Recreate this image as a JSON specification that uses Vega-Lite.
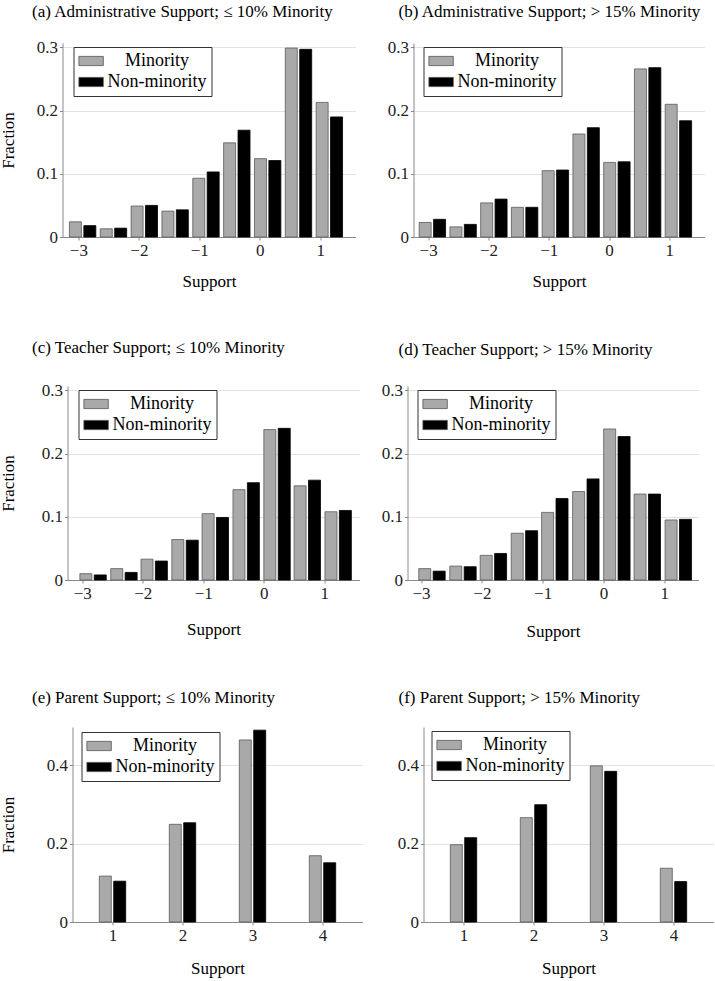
{
  "$schema": "https://vega.github.io/schema/vega-lite/v6.json",
  "background": "white",
  "padding": {"left": -36.5, "top": 3, "right": 2, "bottom": 2},
  "datasets": {
    "a": [
      {"support": -2.93, "group": "Minority", "fraction": 0.024},
      {"support": -2.42, "group": "Minority", "fraction": 0.013},
      {"support": -1.91, "group": "Minority", "fraction": 0.049},
      {"support": -1.40, "group": "Minority", "fraction": 0.041},
      {"support": -0.89, "group": "Minority", "fraction": 0.093},
      {"support": -0.38, "group": "Minority", "fraction": 0.149},
      {"support": 0.13, "group": "Minority", "fraction": 0.124},
      {"support": 0.64, "group": "Minority", "fraction": 0.299},
      {"support": 1.15, "group": "Minority", "fraction": 0.213},
      {"support": -2.93, "group": "Non-minority", "fraction": 0.018},
      {"support": -2.42, "group": "Non-minority", "fraction": 0.014},
      {"support": -1.91, "group": "Non-minority", "fraction": 0.050},
      {"support": -1.40, "group": "Non-minority", "fraction": 0.043},
      {"support": -0.89, "group": "Non-minority", "fraction": 0.103},
      {"support": -0.38, "group": "Non-minority", "fraction": 0.169},
      {"support": 0.13, "group": "Non-minority", "fraction": 0.121},
      {"support": 0.64, "group": "Non-minority", "fraction": 0.297},
      {"support": 1.15, "group": "Non-minority", "fraction": 0.190}
    ],
    "b": [
      {"support": -2.93, "group": "Minority", "fraction": 0.023},
      {"support": -2.42, "group": "Minority", "fraction": 0.016},
      {"support": -1.91, "group": "Minority", "fraction": 0.054},
      {"support": -1.40, "group": "Minority", "fraction": 0.047},
      {"support": -0.89, "group": "Minority", "fraction": 0.105},
      {"support": -0.38, "group": "Minority", "fraction": 0.163},
      {"support": 0.13, "group": "Minority", "fraction": 0.118},
      {"support": 0.64, "group": "Minority", "fraction": 0.266},
      {"support": 1.15, "group": "Minority", "fraction": 0.210},
      {"support": -2.93, "group": "Non-minority", "fraction": 0.028},
      {"support": -2.42, "group": "Non-minority", "fraction": 0.020},
      {"support": -1.91, "group": "Non-minority", "fraction": 0.060},
      {"support": -1.40, "group": "Non-minority", "fraction": 0.047},
      {"support": -0.89, "group": "Non-minority", "fraction": 0.106},
      {"support": -0.38, "group": "Non-minority", "fraction": 0.173},
      {"support": 0.13, "group": "Non-minority", "fraction": 0.119},
      {"support": 0.64, "group": "Non-minority", "fraction": 0.268},
      {"support": 1.15, "group": "Non-minority", "fraction": 0.184}
    ],
    "c": [
      {"support": -2.82, "group": "Minority", "fraction": 0.010},
      {"support": -2.31, "group": "Minority", "fraction": 0.018},
      {"support": -1.81, "group": "Minority", "fraction": 0.033},
      {"support": -1.30, "group": "Minority", "fraction": 0.064},
      {"support": -0.80, "group": "Minority", "fraction": 0.105},
      {"support": -0.29, "group": "Minority", "fraction": 0.143},
      {"support": 0.22, "group": "Minority", "fraction": 0.238},
      {"support": 0.72, "group": "Minority", "fraction": 0.149},
      {"support": 1.23, "group": "Minority", "fraction": 0.108},
      {"support": -2.82, "group": "Non-minority", "fraction": 0.008},
      {"support": -2.31, "group": "Non-minority", "fraction": 0.012},
      {"support": -1.81, "group": "Non-minority", "fraction": 0.030},
      {"support": -1.30, "group": "Non-minority", "fraction": 0.063},
      {"support": -0.80, "group": "Non-minority", "fraction": 0.099},
      {"support": -0.29, "group": "Non-minority", "fraction": 0.154},
      {"support": 0.22, "group": "Non-minority", "fraction": 0.240},
      {"support": 0.72, "group": "Non-minority", "fraction": 0.158},
      {"support": 1.23, "group": "Non-minority", "fraction": 0.110}
    ],
    "d": [
      {"support": -2.82, "group": "Minority", "fraction": 0.018},
      {"support": -2.31, "group": "Minority", "fraction": 0.022},
      {"support": -1.81, "group": "Minority", "fraction": 0.039},
      {"support": -1.30, "group": "Minority", "fraction": 0.074},
      {"support": -0.80, "group": "Minority", "fraction": 0.107},
      {"support": -0.29, "group": "Minority", "fraction": 0.140},
      {"support": 0.22, "group": "Minority", "fraction": 0.239},
      {"support": 0.72, "group": "Minority", "fraction": 0.136},
      {"support": 1.23, "group": "Minority", "fraction": 0.095},
      {"support": -2.82, "group": "Non-minority", "fraction": 0.014},
      {"support": -2.31, "group": "Non-minority", "fraction": 0.021},
      {"support": -1.81, "group": "Non-minority", "fraction": 0.042},
      {"support": -1.30, "group": "Non-minority", "fraction": 0.078},
      {"support": -0.80, "group": "Non-minority", "fraction": 0.129},
      {"support": -0.29, "group": "Non-minority", "fraction": 0.160},
      {"support": 0.22, "group": "Non-minority", "fraction": 0.227},
      {"support": 0.72, "group": "Non-minority", "fraction": 0.136},
      {"support": 1.23, "group": "Non-minority", "fraction": 0.096}
    ],
    "e": [
      {"support": 1, "group": "Minority", "fraction": 0.117},
      {"support": 2, "group": "Minority", "fraction": 0.249},
      {"support": 3, "group": "Minority", "fraction": 0.464},
      {"support": 4, "group": "Minority", "fraction": 0.169},
      {"support": 1, "group": "Non-minority", "fraction": 0.104},
      {"support": 2, "group": "Non-minority", "fraction": 0.253},
      {"support": 3, "group": "Non-minority", "fraction": 0.489},
      {"support": 4, "group": "Non-minority", "fraction": 0.151}
    ],
    "f": [
      {"support": 1, "group": "Minority", "fraction": 0.197},
      {"support": 2, "group": "Minority", "fraction": 0.266},
      {"support": 3, "group": "Minority", "fraction": 0.398},
      {"support": 4, "group": "Minority", "fraction": 0.137},
      {"support": 1, "group": "Non-minority", "fraction": 0.215},
      {"support": 2, "group": "Non-minority", "fraction": 0.299},
      {"support": 3, "group": "Non-minority", "fraction": 0.384},
      {"support": 4, "group": "Non-minority", "fraction": 0.103}
    ]
  },
  "columns": 1,
  "align": "none",
  "spacing": 50,
  "resolve": {"legend": {"fill": "independent"}, "scale": {"x": "independent", "y": "independent"}, "axis": {"x": "independent", "y": "independent"}},
  "concat": [
    {
      "hconcat": [
        {"width": 5, "height": 10, "data": {"values": [{}]}, "mark": {"type": "point", "opacity": 0, "size": 1}, "encoding": {}},
        {
          "width": 293, "height": 194,
          "title": {"text": "(a) Administrative Support; ≤ 10% Minority", "anchor": "start", "frame": "bounds", "dx": 32.5, "offset": 17},
          "data": {"name": "a"},
          "encoding": {
            "x": {"field": "support", "type": "quantitative", "scale": {"domain": [-3.18, 1.5], "nice": false, "zero": false}, "axis": {"values": [-3, -2, -1, 0, 1], "format": "d", "title": "Support", "titlePadding": 15}},
            "y": {"field": "fraction", "type": "quantitative", "scale": {"domain": [0, 0.307], "nice": false}, "axis": {"values": [0, 0.1, 0.2, 0.3], "format": "~g", "title": "Fraction", "titlePadding": 18.75, "grid": true}},
            "fill": {"field": "group", "type": "nominal", "scale": {"domain": ["Minority", "Non-minority"], "range": ["#a9a9a9", "#000000"]}, "legend": {"legendX": 11, "legendY": 4}}
          },
          "layer": [
            {"transform": [{"filter": "datum.group === 'Minority'"}], "mark": {"type": "bar", "width": 12, "xOffset": -7.2, "stroke": "#5a5a5a", "strokeWidth": 0.8}},
            {"transform": [{"filter": "datum.group === 'Non-minority'"}], "mark": {"type": "bar", "width": 12, "xOffset": 7.2, "stroke": "#000000", "strokeWidth": 0.8}}
          ]
        },
        {
          "width": 291, "height": 194,
          "title": {"text": "(b) Administrative Support; > 15% Minority", "anchor": "start", "frame": "group", "dx": -15, "offset": 17},
          "data": {"name": "b"},
          "encoding": {
            "x": {"field": "support", "type": "quantitative", "scale": {"domain": [-3.16, 1.5], "nice": false, "zero": false}, "axis": {"values": [-3, -2, -1, 0, 1], "format": "d", "title": "Support", "titlePadding": 15}},
            "y": {"field": "fraction", "type": "quantitative", "scale": {"domain": [0, 0.307], "nice": false}, "axis": {"values": [0, 0.1, 0.2, 0.3], "format": "~g", "title": null, "grid": true}},
            "fill": {"field": "group", "type": "nominal", "scale": {"domain": ["Minority", "Non-minority"], "range": ["#a9a9a9", "#000000"]}, "legend": {"legendX": 10, "legendY": 4}}
          },
          "layer": [
            {"transform": [{"filter": "datum.group === 'Minority'"}], "mark": {"type": "bar", "width": 12, "xOffset": -7.2, "stroke": "#5a5a5a", "strokeWidth": 0.8}},
            {"transform": [{"filter": "datum.group === 'Non-minority'"}], "mark": {"type": "bar", "width": 12, "xOffset": 7.2, "stroke": "#000000", "strokeWidth": 0.8}}
          ]
        }
      ],
      "spacing": 31,
      "resolve": {"legend": {"fill": "independent"}, "scale": {"x": "independent", "y": "independent"}, "axis": {"x": "independent", "y": "independent"}}
    },
    {
      "hconcat": [
        {"width": 15, "height": 10, "data": {"values": [{}]}, "mark": {"type": "point", "opacity": 0, "size": 1}, "encoding": {}},
        {
          "width": 292, "height": 194,
          "title": {"text": "(c) Teacher Support; ≤ 10% Minority", "anchor": "start", "frame": "bounds", "dx": 32.5, "offset": 24},
          "data": {"name": "c"},
          "encoding": {
            "x": {"field": "support", "type": "quantitative", "scale": {"domain": [-3.16, 1.5], "nice": false, "zero": false}, "axis": {"values": [-3, -2, -1, 0, 1], "format": "d", "title": "Support", "titlePadding": 20}},
            "y": {"field": "fraction", "type": "quantitative", "scale": {"domain": [0, 0.307], "nice": false}, "axis": {"values": [0, 0.1, 0.2, 0.3], "format": "~g", "title": "Fraction", "titlePadding": 23.75, "grid": true}},
            "fill": {"field": "group", "type": "nominal", "scale": {"domain": ["Minority", "Non-minority"], "range": ["#a9a9a9", "#000000"]}, "legend": {"legendX": 11, "legendY": 4}}
          },
          "layer": [
            {"transform": [{"filter": "datum.group === 'Minority'"}], "mark": {"type": "bar", "width": 12, "xOffset": -7.2, "stroke": "#5a5a5a", "strokeWidth": 0.8}},
            {"transform": [{"filter": "datum.group === 'Non-minority'"}], "mark": {"type": "bar", "width": 12, "xOffset": 7.2, "stroke": "#000000", "strokeWidth": 0.8}}
          ]
        },
        {
          "width": 291, "height": 194,
          "title": {"text": "(d) Teacher Support; > 15% Minority", "anchor": "start", "frame": "group", "dx": -9, "offset": 22},
          "data": {"name": "d"},
          "encoding": {
            "x": {"field": "support", "type": "quantitative", "scale": {"domain": [-3.14, 1.48], "nice": false, "zero": false}, "axis": {"values": [-3, -2, -1, 0, 1], "format": "d", "title": "Support", "titlePadding": 22}},
            "y": {"field": "fraction", "type": "quantitative", "scale": {"domain": [0, 0.307], "nice": false}, "axis": {"values": [0, 0.1, 0.2, 0.3], "format": "~g", "title": null, "grid": true}},
            "fill": {"field": "group", "type": "nominal", "scale": {"domain": ["Minority", "Non-minority"], "range": ["#a9a9a9", "#000000"]}, "legend": {"legendX": 10, "legendY": 4}}
          },
          "layer": [
            {"transform": [{"filter": "datum.group === 'Minority'"}], "mark": {"type": "bar", "width": 12, "xOffset": -7.2, "stroke": "#5a5a5a", "strokeWidth": 0.8}},
            {"transform": [{"filter": "datum.group === 'Non-minority'"}], "mark": {"type": "bar", "width": 12, "xOffset": 7.2, "stroke": "#000000", "strokeWidth": 0.8}}
          ]
        }
      ],
      "spacing": 21,
      "resolve": {"legend": {"fill": "independent"}, "scale": {"x": "independent", "y": "independent"}, "axis": {"x": "independent", "y": "independent"}}
    },
    {
      "hconcat": [
        {"width": 2, "height": 10, "data": {"values": [{}]}, "mark": {"type": "point", "opacity": 0, "size": 1}, "encoding": {}},
        {
          "width": 290, "height": 195,
          "title": {"text": "(e) Parent Support; ≤ 10% Minority", "anchor": "start", "frame": "bounds", "dx": 32.5, "offset": 20},
          "data": {"name": "e"},
          "encoding": {
            "x": {"field": "support", "type": "quantitative", "scale": {"domain": [0.5, 4.5], "nice": false, "zero": false}, "axis": {"values": [1, 2, 3, 4], "format": "d", "title": "Support", "titlePadding": 17}},
            "y": {"field": "fraction", "type": "quantitative", "scale": {"domain": [0, 0.497], "nice": false}, "axis": {"values": [0, 0.2, 0.4], "format": "~g", "title": "Fraction", "titlePadding": 28.75, "grid": true}},
            "fill": {"field": "group", "type": "nominal", "scale": {"domain": ["Minority", "Non-minority"], "range": ["#a9a9a9", "#000000"]}, "legend": {"legendX": 9, "legendY": 5}}
          },
          "layer": [
            {"transform": [{"filter": "datum.group === 'Minority'"}], "mark": {"type": "bar", "width": 12, "xOffset": -7.2, "stroke": "#5a5a5a", "strokeWidth": 0.8}},
            {"transform": [{"filter": "datum.group === 'Non-minority'"}], "mark": {"type": "bar", "width": 12, "xOffset": 7.2, "stroke": "#000000", "strokeWidth": 0.8}}
          ]
        },
        {
          "width": 290, "height": 195,
          "title": {"text": "(f) Parent Support; > 15% Minority", "anchor": "start", "frame": "group", "dx": -25, "offset": 20},
          "data": {"name": "f"},
          "encoding": {
            "x": {"field": "support", "type": "quantitative", "scale": {"domain": [0.5, 4.5], "nice": false, "zero": false}, "axis": {"values": [1, 2, 3, 4], "format": "d", "title": "Support", "titlePadding": 17}},
            "y": {"field": "fraction", "type": "quantitative", "scale": {"domain": [0, 0.497], "nice": false}, "axis": {"values": [0, 0.2, 0.4], "format": "~g", "title": null, "grid": true}},
            "fill": {"field": "group", "type": "nominal", "scale": {"domain": ["Minority", "Non-minority"], "range": ["#a9a9a9", "#000000"]}, "legend": {"legendX": 8, "legendY": 4}}
          },
          "layer": [
            {"transform": [{"filter": "datum.group === 'Minority'"}], "mark": {"type": "bar", "width": 12, "xOffset": -7.2, "stroke": "#5a5a5a", "strokeWidth": 0.8}},
            {"transform": [{"filter": "datum.group === 'Non-minority'"}], "mark": {"type": "bar", "width": 12, "xOffset": 7.2, "stroke": "#000000", "strokeWidth": 0.8}}
          ]
        }
      ],
      "spacing": 34,
      "resolve": {"legend": {"fill": "independent"}, "scale": {"x": "independent", "y": "independent"}, "axis": {"x": "independent", "y": "independent"}}
    }
  ],
  "config": {
    "font": "Liberation Serif",
    "view": {"stroke": null},
    "axis": {
      "labelFont": "Liberation Serif", "labelFontSize": 17, "labelColor": "#222222",
      "titleFont": "Liberation Serif", "titleFontSize": 17, "titleFontWeight": "normal", "titleColor": "#000000",
      "domainColor": "#8a8a8a", "domainWidth": 1, "tickColor": "#8a8a8a", "tickSize": 3, "labelPadding": 2,
      "gridColor": "#e2e2e2", "grid": false
    },
    "legend": {
      "orient": "none", "title": null, "direction": "vertical",
      "symbolType": "M-1,-1H4.3V1H-1Z", "symbolSize": 85, "symbolOffset": -4,
      "symbolStrokeColor": "#555555", "symbolStrokeWidth": 0.8,
      "labelFont": "Liberation Serif", "labelFontSize": 18, "labelColor": "#000000",
      "labelAlign": "center", "labelOffset": 64.5,
      "strokeColor": "#333333", "fillColor": "white", "padding": 5, "rowPadding": 3, "cornerRadius": 0
    },
    "title": {"font": "Liberation Serif", "fontSize": 17, "fontWeight": "normal", "color": "#000000"}
  }
}
